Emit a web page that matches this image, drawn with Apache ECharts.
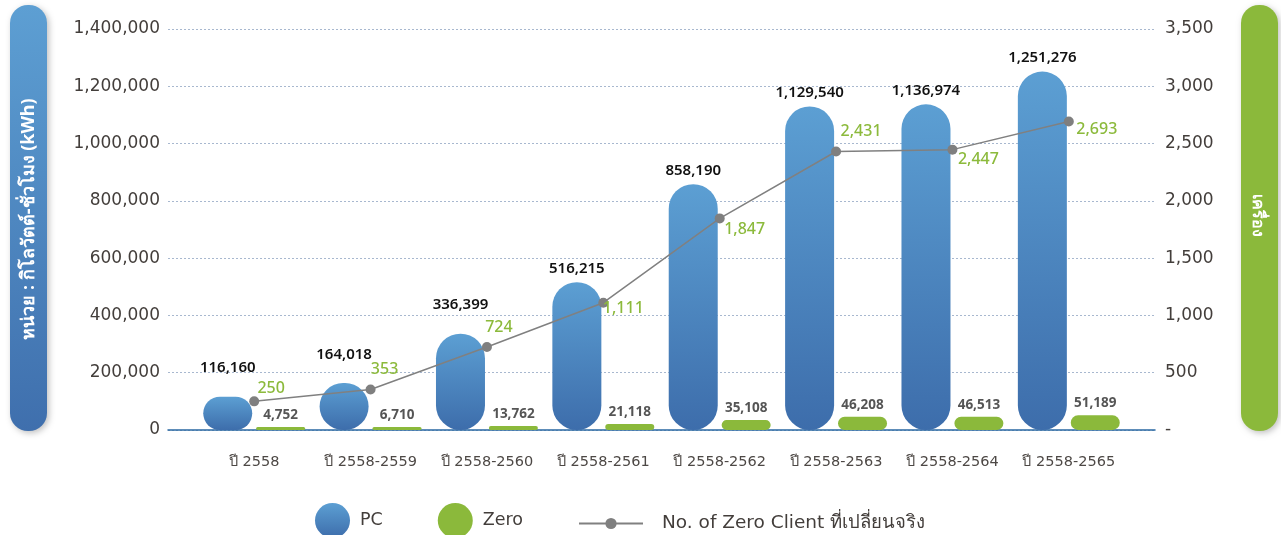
<!DOCTYPE html>
<html><head><meta charset="utf-8">
<script src="https://cdn.jsdelivr.net/npm/echarts@6/dist/echarts.min.js"></script>
<style>html,body{margin:0;padding:0;background:#fff}#c{width:1281px;height:535px}</style>
</head><body><div id="c"></div>
<script>
const categories = ['ปี 2558','ปี 2558-2559','ปี 2558-2560','ปี 2558-2561','ปี 2558-2562','ปี 2558-2563','ปี 2558-2564','ปี 2558-2565'];
const pcValues = [116160,164018,336399,516215,858190,1129540,1136974,1251276];
const zeroValues = [4752,6710,13762,21118,35108,46208,46513,51189];
const zeroClients = [250,353,724,1111,1847,2431,2447,2693];
const leftTicks = [0,200000,400000,600000,800000,1000000,1200000,1400000];
const rightTicks = [0,500,1000,1500,2000,2500,3000,3500];

const FONT = '"Noto Sans", sans-serif';
const WIDE = '"DejaVu Sans", sans-serif';
const pcLabelDist = [21,21,21,6,6,6,6,6];
const lineOffsets = [[17,-13],[14,-20],[12,-20],[20,6],[25,11],[25,-20],[26,10],[28,8]];
const fmt = v => v.toLocaleString('en-US');

const blueGrad = new echarts.graphic.LinearGradient(0,0,0,1,[{offset:0,color:'#5c9fd3'},{offset:1,color:'#3d6dab'}]);
const chart = echarts.init(document.getElementById('c'));
chart.setOption({
  animation:false,
  grid:[
    {left:168,right:126,top:29,bottom:105},
    {left:196,right:154,top:29,bottom:105}
  ],
  xAxis:[
    {gridIndex:0,type:'category',data:categories,axisLabel:{show:false},axisTick:{show:false},
     axisLine:{lineStyle:{color:'#2a68a3',width:1.5}}},
    {gridIndex:1,type:'category',data:categories,axisLine:{show:false},axisTick:{show:false},
     axisLabel:{interval:0,margin:25,fontSize:14.5,color:'#4d4845',fontFamily:WIDE}}
  ],
  yAxis:[
    {gridIndex:0,type:'value',min:leftTicks[0],max:leftTicks[leftTicks.length-1],interval:200000,
     axisLine:{show:false},axisTick:{show:false},
     axisLabel:{margin:8,fontSize:17,color:'#433e3b',fontFamily:WIDE,formatter:v=>fmt(v)},
     splitLine:{lineStyle:{color:'#a8b8cf',type:[2,2],width:1}}},
    {gridIndex:0,type:'value',position:'right',min:rightTicks[0],max:rightTicks[rightTicks.length-1],interval:500,
     axisLine:{show:false},axisTick:{show:false},splitLine:{show:false},
     axisLabel:{margin:10,fontSize:17,color:'#433e3b',fontFamily:WIDE,formatter:v=>v===0?'-':fmt(v)}},
    {gridIndex:1,type:'value',min:0,max:1400000,show:false,splitLine:{show:false}},
    {gridIndex:1,type:'value',position:'right',min:0,max:3500,show:false,splitLine:{show:false}}
  ],
  legend:[
    {data:['PC','Zero'],left:315,top:503,padding:0,itemWidth:35,itemHeight:35,itemGap:55,
     icon:'path://M0,50 A50,50 0 1,1 100,50 A50,50 0 1,1 0,50 Z',
     textStyle:{fontSize:17.5,color:'#433e3b',fontFamily:WIDE,padding:[0,0,0,5]}},
    {data:['No. of Zero Client ที่เปลี่ยนจริง'],left:578,top:514,padding:0,itemWidth:64,itemHeight:14,
     textStyle:{fontSize:18.5,color:'#433e3b',fontFamily:WIDE,padding:[0,0,0,14]}}
  ],
  graphic:[
    {type:'rect',left:10,top:5,shape:{width:37,height:426,r:18},z:10,
     style:{fill:new echarts.graphic.LinearGradient(0,0,0,1,[{offset:0,color:'#5d9fd3'},{offset:1,color:'#3f6fad'}]),
       shadowBlur:6,shadowOffsetX:2,shadowOffsetY:2,shadowColor:'rgba(0,0,0,0.25)'}},
    {type:'text',x:29,y:219,rotation:Math.PI/2,z:11,
     style:{text:'หน่วย : กิโลวัตต์-ชั่วโมง (kWh)',fill:'#fff',font:'bold 18px '+FONT,align:'center',verticalAlign:'middle'}},
    {type:'rect',left:1241,top:5,shape:{width:37,height:426,r:18},z:10,
     style:{fill:'#8bb93b',shadowBlur:6,shadowOffsetX:2,shadowOffsetY:2,shadowColor:'rgba(0,0,0,0.25)'}},
    {type:'text',x:1258,y:215,rotation:-Math.PI/2,z:11,
     style:{text:'เครื่อง',fill:'#fff',font:'bold 16px '+FONT,align:'center',verticalAlign:'middle'}}
  ],
  series:[
    {name:'PC',type:'bar',xAxisIndex:1,yAxisIndex:2,barWidth:49,barGap:'8%',
     itemStyle:{color:blueGrad,borderRadius:25},
     data:pcValues.map((v,i)=>({value:v,label:{distance:pcLabelDist[i]}})),
     label:{show:true,position:'top',fontSize:15,fontWeight:600,color:'#111',fontFamily:FONT,formatter:p=>fmt(p.value)}},
    {name:'Zero',type:'bar',xAxisIndex:1,yAxisIndex:2,barWidth:49,barMinHeight:3,
     itemStyle:{color:'#8bb93b',borderRadius:25},
     data:zeroValues,
     label:{show:true,position:'top',distance:5,fontSize:13.5,fontWeight:700,color:'#555',fontFamily:FONT,formatter:p=>fmt(p.value)}},
    {name:'No. of Zero Client ที่เปลี่ยนจริง',type:'line',xAxisIndex:1,yAxisIndex:3,
     symbol:'circle',symbolSize:10,z:5,
     lineStyle:{color:'#808080',width:1.5},itemStyle:{color:'#7f7f7f'},
     data:zeroClients.map((v,i)=>({value:v,label:{offset:lineOffsets[i]}})),
     label:{show:true,position:'inside',fontSize:16,fontWeight:500,color:'#8cba3c',fontFamily:FONT,formatter:p=>fmt(p.value)}}
  ]
});
</script></body></html>
